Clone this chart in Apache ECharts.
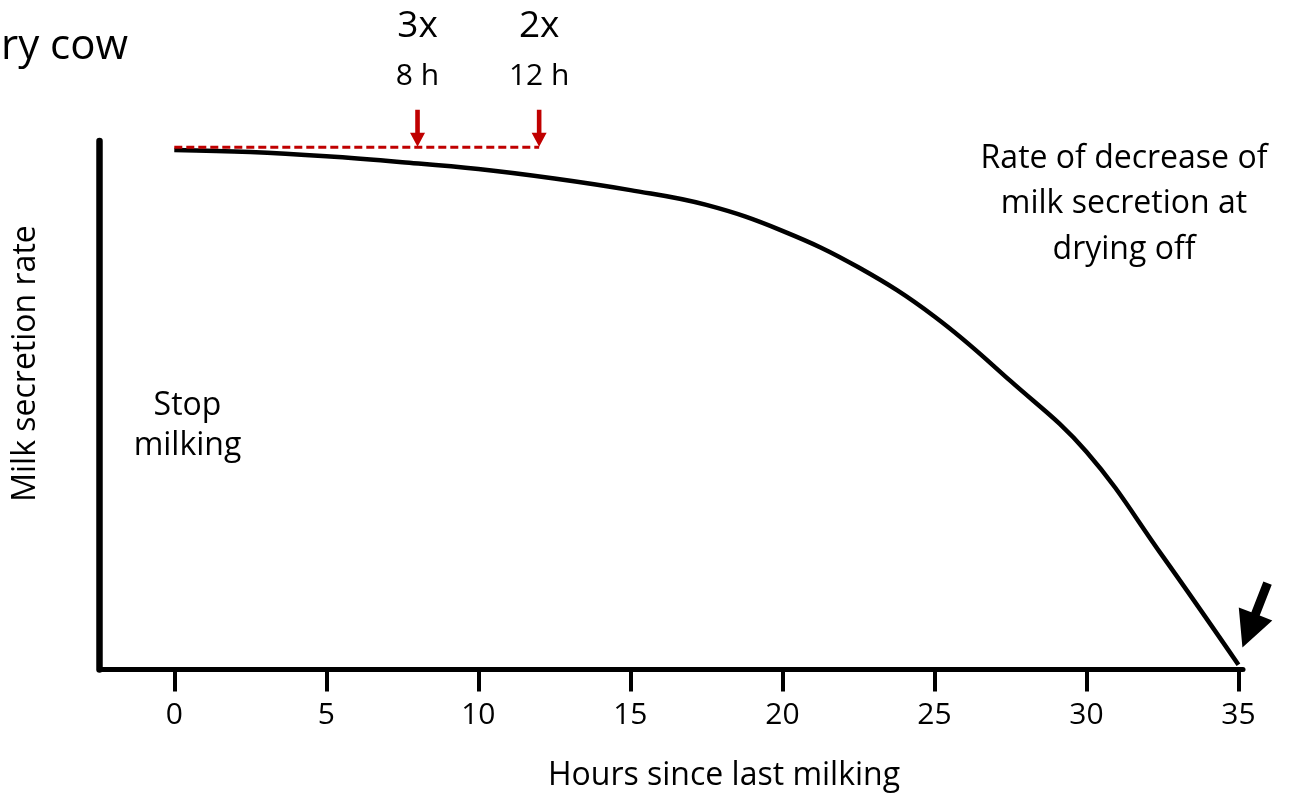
<!DOCTYPE html>
<html>
<head>
<meta charset="utf-8">
<title>Milk secretion rate after the last milking</title>
<script src="https://cdn.jsdelivr.net/npm/echarts@6/dist/echarts.min.js"></script>
<style>
  html, body { margin: 0; padding: 0; background: #ffffff; }
  #chart { width: 1289px; height: 795px; }
</style>
</head>
<body>
<div id="chart"></div>
<script>
// Hours since the last milking and the relative milk secretion rate (0-100)
const curveHours = [0, 2.5, 5, 7.5, 10, 12.5, 15, 17.5, 20, 22.5, 25, 27.5, 30, 32.5, 35];
const curveRate = [98.3, 97.9, 97.1, 96.0, 94.7, 92.9, 90.7, 87.9, 83.0, 76.1, 66.8, 54.6, 41.2, 21.5, 0.9];

// Reference level (secretion rate held with regular milking)
const refHours = [0, 12];
const refRate = [98.8, 98.8];

// Milking intervals marked with arrows
const intervalHours = [8, 12];
const intervalLabels = ['8 h', '12 h'];
const frequencyLabels = ['3x', '2x'];

// Axis ticks
const xTicks = [0, 5, 10, 15, 20, 25, 30, 35];
const xRange = [-2.46, 35.15];
const yRange = [0, 100];

const FONT = '"Open Sans", "Noto Sans", sans-serif';
const RED = '#C00000';

const chart = echarts.init(document.getElementById('chart'), null, { renderer: 'canvas' });

const option = {
  animation: false,
  backgroundColor: '#ffffff',
  grid: { left: 99.5, right: 46, top: 141, bottom: 125.5, containLabel: false, outerBoundsMode: 'none' },
  xAxis: {
    type: 'value',
    min: xRange[0],
    max: xRange[1],
    splitLine: { show: false },
    axisLine: { show: true, onZero: false, lineStyle: { color: '#000', width: 5 } },
    axisTick: { show: true, customValues: xTicks, length: 22, lineStyle: { color: '#000', width: 4 } },
    axisLabel: {
      show: true, customValues: xTicks, margin: 46, verticalAlign: 'middle',
      color: '#000', fontFamily: FONT, fontSize: 30
    }
  },
  yAxis: {
    type: 'value',
    min: yRange[0],
    max: yRange[1],
    splitLine: { show: false },
    axisLine: { show: true, onZero: false, lineStyle: { color: '#000', width: 6.5 } },
    axisTick: { show: false },
    axisLabel: { show: false }
  },
  series: [
    {
      name: 'Milk secretion rate',
      type: 'line',
      data: curveHours.map((h, i) => [h, curveRate[i]]),
      smooth: 0.4,
      smoothConstraint: false,
      showSymbol: false,
      clip: false,
      lineStyle: { color: '#000', width: 4.5, cap: 'butt' },
      z: 3
    },
    {
      name: 'Regular milking level',
      type: 'line',
      data: refHours.map((h, i) => [h, refRate[i]]),
      showSymbol: false,
      clip: false,
      lineStyle: { color: RED, width: 3, type: [8, 4] },
      z: 4
    }
  ]
};

chart.setOption(option);

// Arrow outline: tip point, direction toward the tip, total length, head length, half widths
function arrowPoints(tip, dir, len, headLen, headHalf, shaftHalf) {
  const n = Math.hypot(dir[0], dir[1]);
  const d = [dir[0] / n, dir[1] / n];
  const p = [-d[1], d[0]];
  const base = [tip[0] - d[0] * headLen, tip[1] - d[1] * headLen];
  const tail = [tip[0] - d[0] * len, tip[1] - d[1] * len];
  return [
    tip,
    [base[0] + p[0] * headHalf, base[1] + p[1] * headHalf],
    [base[0] + p[0] * shaftHalf, base[1] + p[1] * shaftHalf],
    [tail[0] + p[0] * shaftHalf, tail[1] + p[1] * shaftHalf],
    [tail[0] - p[0] * shaftHalf, tail[1] - p[1] * shaftHalf],
    [base[0] - p[0] * shaftHalf, base[1] - p[1] * shaftHalf],
    [base[0] - p[0] * headHalf, base[1] - p[1] * headHalf]
  ];
}

function text(str, x, y, size, extra) {
  return Object.assign({
    type: 'text',
    x: x, y: y,
    silent: true,
    style: Object.assign({
      text: str, fontFamily: FONT, fontSize: size, fill: '#000',
      align: 'center', verticalAlign: 'middle'
    }, (extra && extra.style) || {})
  }, extra ? { rotation: extra.rotation || 0 } : {});
}

function buildAnnotations() {
  const toPx = (pt) => chart.convertToPixel({ gridIndex: 0 }, pt);
  const elements = [];

  // Red arrows and labels for the two milking intervals
  intervalHours.forEach((h, i) => {
    const tip = toPx([h, refRate[0]]);
    elements.push({
      type: 'polygon', silent: true,
      shape: { points: arrowPoints([tip[0], tip[1] - 0.5], [0, 1], 37, 14, 7.5, 2.3) },
      style: { fill: RED }, z: 10
    });
    elements.push(text(frequencyLabels[i], tip[0], 26, 37));
    elements.push(text(intervalLabels[i], tip[0], 76.5, 30));
  });

  // Black arrow pointing at the end of secretion
  const end = toPx([curveHours[curveHours.length - 1], 0]);
  const bigTip = [end[0] + 4, end[1] - 22];
  elements.push({
    type: 'polygon', silent: true,
    shape: { points: arrowPoints(bigTip, [-25, 64], 69, 36, 18, 4.5) },
    style: { fill: '#000' }, z: 10
  });

  // Text annotations
  elements.push(text('ry cow', 1, 47, 42, { style: { align: 'left' } }));
  elements.push(text('Stop', 187.5, 406, 32));
  elements.push(text('milking', 187.5, 446, 32));
  elements.push(text('Rate of decrease of\nmilk secretion at\ndrying off', 1124, 204, 32, { style: { lineHeight: 45.5 } }));
  elements.push(text('Hours since last milking', 724, 776, 32));
  elements.push(text('Milk secretion rate', 26, 363.5, 32, { rotation: Math.PI / 2 }));

  chart.setOption({ graphic: { elements: elements } });
}

buildAnnotations();
</script>
</body>
</html>
